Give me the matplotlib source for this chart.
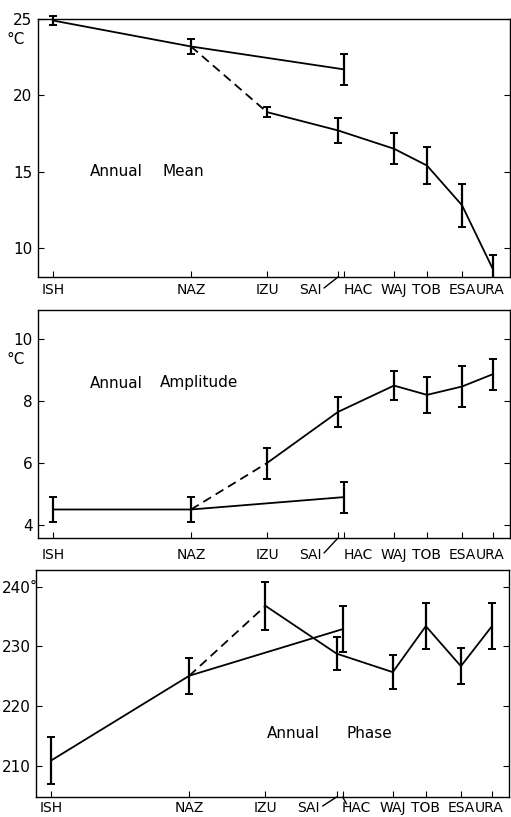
import matplotlib
matplotlib.use('Agg')
import matplotlib.pyplot as plt

# stations along the section and their (relative) distances
stations = ['ISH', 'NAZ', 'IZU', 'SAI', 'HAC', 'WAJ', 'TOB', 'ESA', 'URA']
dist = [15, 153, 229, 300, 306, 356, 389, 424, 455]

# coastal series: ISH, NAZ, HAC
coast_st = ['ISH', 'NAZ', 'HAC']
# inland series: IZU .. URA (joined to NAZ by a dashed segment)
inland_st = ['IZU', 'SAI', 'WAJ', 'TOB', 'ESA', 'URA']

mean_coast = [24.9, 23.2, 21.7]
mean_coast_err = [0.3, 0.5, 1.0]
mean_inland = [18.9, 17.7, 16.5, 15.4, 12.8, 8.6]
mean_inland_err = [0.35, 0.8, 1.0, 1.2, 1.4, 0.95]

amp_coast = [4.5, 4.5, 4.9]
amp_coast_err = [0.4, 0.4, 0.5]
amp_inland = [6.0, 7.65, 8.5, 8.2, 8.47, 8.87]
amp_inland_err = [0.5, 0.48, 0.48, 0.58, 0.65, 0.5]

phase_coast = [210.9, 225.1, 232.9]
phase_coast_err = [3.9, 3.0, 3.9]
phase_inland = [236.8, 228.8, 225.7, 233.4, 226.7, 233.4]
phase_inland_err = [4.0, 2.8, 2.8, 3.8, 3.0, 3.9]

pos = dict(zip(stations, dist))
W, H = 511, 817


def draw_panel(rect, coast, coast_err, inland, inland_err, ylim, yticks, ylabels,
               lab_off, hac_leader):
    ax = fig.add_axes(rect)
    xc = [pos[s] for s in coast_st]
    xi = [pos[s] for s in inland_st]
    ax.plot(xc, coast, '-', color='black', lw=1.3)
    ax.plot([pos['NAZ'], xi[0]], [coast[1], inland[0]], '--', color='black',
            lw=1.3, dashes=(5, 3))
    ax.plot(xi, inland, '-', color='black', lw=1.3)
    e1 = ax.errorbar(xc, coast, yerr=coast_err, fmt='none', ecolor='black',
                     elinewidth=1.6, capsize=3, capthick=1.4)
    for a in e1.lines[1] + e1.lines[2]:
        a.set_clip_on(False)
    ax.errorbar(xi, inland, yerr=inland_err, fmt='none', ecolor='black',
                elinewidth=1.6, capsize=3, capthick=1.4)
    ax.set_xlim(0, 472)
    ax.set_ylim(*ylim)
    ax.set_yticks(yticks)
    ax.set_yticklabels(ylabels)
    ax.set_xticks(dist)
    ax.set_xticklabels([])
    ax.tick_params(axis='y', direction='in', right=True, length=4, labelsize=11,
                   pad=4)
    ax.tick_params(axis='x', direction='in', length=4)
    for sp in ax.spines.values():
        sp.set_linewidth(1.0)

    shift = {'SAI': -28, 'HAC': 14, 'URA': -3}
    for s in stations:
        ax.annotate(s, xy=(pos[s], 0), xycoords=('data', 'axes fraction'),
                    xytext=(shift.get(s, 0), -lab_off), textcoords='offset pixels',
                    ha='center', va='center', fontsize=10)
    # leader lines from the shifted labels up to the SAI / HAC ticks
    ax.annotate('', xy=(pos['SAI'], 0), xycoords=('data', 'axes fraction'),
                xytext=(-14, -lab_off + 2), textcoords='offset pixels',
                arrowprops=dict(arrowstyle='-', lw=1.0, shrinkA=0, shrinkB=0))
    if hac_leader:
        ax.annotate('', xy=(pos['HAC'], 0), xycoords=('data', 'axes fraction'),
                    xytext=(4, -lab_off + 4), textcoords='offset pixels',
                    arrowprops=dict(arrowstyle='-', lw=1.0, shrinkA=0, shrinkB=0))
    return ax


fig = plt.figure(figsize=(W / 100, H / 100), dpi=100)


def rect(l, r, t, b):
    return [l / W, 1 - b / H, (r - l) / W, (b - t) / H]


ax1 = draw_panel(rect(38, 510, 19, 277), mean_coast, mean_coast_err,
                 mean_inland, mean_inland_err, (8.1, 25.0),
                 [10, 15, 20, 25], ['10', '15', '20', '25'], 13, False)

ax2 = draw_panel(rect(38, 510, 310, 538), amp_coast, amp_coast_err,
                 amp_inland, amp_inland_err, (3.58, 10.94),
                 [4, 6, 8, 10], ['4', '6', '8', '10'], 17, False)

ax3 = draw_panel(rect(36, 509, 570, 797), phase_coast, phase_coast_err,
                 phase_inland, phase_inland_err, (204.8, 242.8),
                 [210, 220, 230, 240], ['210', '220', '230', '240'], 11, True)

# panel titles (figure pixel positions)
for txt, x, y in [('Annual', 90, 172), ('Mean', 163, 172),
                  ('Annual', 90, 383), ('Amplitude', 160, 383),
                  ('Annual', 267, 734), ('Phase', 346, 734)]:
    fig.text(x / W, 1 - y / H, txt, fontsize=11, ha='left', va='center')

# units
fig.text(16 / W, 1 - 40 / H, '°C', fontsize=11, ha='center', va='center')
fig.text(16 / W, 1 - 359 / H, '°C', fontsize=11, ha='center', va='center')
fig.text(30 / W, 1 - 587 / H, '°', fontsize=10, ha='left', va='center')

fig.savefig('out.png', dpi=100)
